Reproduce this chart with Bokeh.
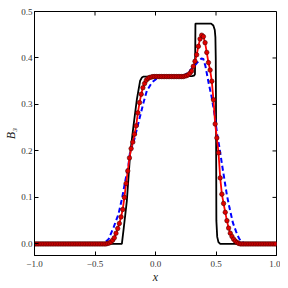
import numpy as np
from bokeh.plotting import figure
from bokeh.models import Range1d, FixedTicker
from bokeh.embed import file_html
from bokeh.resources import INLINE

# exact solution (black)
exact_x = [-1.0, -0.278, -0.262, -0.237, -0.209, -0.182, -0.154, -0.127, -0.112, -0.099,
           0.30, 0.318, 0.326, 0.328, 0.330, 0.46, 0.478, 0.49, 0.495, 0.498, 0.500,
           0.503, 0.51, 0.52, 0.535, 1.0]
exact_y = [0.0, 0.0, 0.035, 0.092, 0.195, 0.254, 0.311, 0.351, 0.358, 0.360,
           0.361, 0.362, 0.365, 0.40, 0.474, 0.474, 0.470, 0.460, 0.445, 0.40, 0.30,
           0.05, 0.015, 0.004, 0.0, 0.0]

# low-order scheme (blue dashed)
low_x = [-1.0, -0.45, -0.43, -0.41, -0.388, -0.347, -0.306, -0.278, -0.25, -0.223, -0.209,
         -0.182, -0.154, -0.127, -0.099, -0.072, -0.031, 0.011, 0.05, 0.20, 0.24, 0.267,
         0.295, 0.322, 0.345, 0.364, 0.38, 0.395, 0.413, 0.44, 0.465, 0.49, 0.51, 0.53,
         0.55, 0.57, 0.59, 0.612, 0.64, 0.667, 0.69, 0.708, 0.74, 0.78, 1.0]
low_y = [0.0, 0.0, 0.002, 0.005, 0.010, 0.035, 0.064, 0.096, 0.135, 0.171, 0.200,
         0.218, 0.247, 0.275, 0.304, 0.329, 0.347, 0.356, 0.360, 0.360, 0.363, 0.368,
         0.376, 0.383, 0.390, 0.395, 0.399, 0.398, 0.382, 0.345, 0.315, 0.275, 0.235, 0.205,
         0.170, 0.138, 0.105, 0.077, 0.045, 0.026, 0.012, 0.005, 0.001, 0.0, 0.0]

# high-order scheme (red with markers), 144 cell centres
N_CELLS = 144
high_x = np.linspace(-1 + 1 / N_CELLS, 1 - 1 / N_CELLS, N_CELLS)
high_y = [
    0.0, 0.0, 0.0, 0.0, 0.0, 0.0, 0.0, 0.0, 0.0, 0.0,
    0.0, 0.0, 0.0, 0.0, 0.0, 0.0, 0.0, 0.0, 0.0, 0.0,
    0.0, 0.0, 0.0, 0.0, 0.0, 0.0, 0.0, 0.0, 0.0, 0.0,
    0.0, 0.0, 0.0, 0.0, 0.0, 0.0, 0.0, 0.0, 0.0, 0.0,
    0.0, 0.0, 0.0, 0.001,
    0.002, 0.004, 0.008, 0.013, 0.023, 0.033, 0.044, 0.058, 0.074, 0.100,
    0.130, 0.157, 0.185, 0.205, 0.219, 0.236, 0.254, 0.282, 0.304, 0.322,
    0.336, 0.345, 0.352, 0.356, 0.358, 0.359,
    0.360, 0.360, 0.360, 0.360, 0.360, 0.360, 0.360, 0.360, 0.360, 0.360,
    0.360, 0.360, 0.360, 0.360, 0.360, 0.360, 0.360, 0.360, 0.360,
    0.361, 0.362, 0.364, 0.367, 0.372, 0.382, 0.393, 0.407, 0.425, 0.441,
    0.449, 0.446, 0.433, 0.412, 0.390, 0.374, 0.350, 0.310, 0.258, 0.228,
    0.196, 0.142, 0.107, 0.087, 0.068, 0.050, 0.034, 0.023, 0.016, 0.010,
    0.006, 0.003, 0.001,
    0.0, 0.0, 0.0, 0.0, 0.0, 0.0, 0.0, 0.0, 0.0, 0.0,
    0.0, 0.0, 0.0, 0.0, 0.0, 0.0, 0.0, 0.0, 0.0, 0.0,
    0.0, 0.0,
]

x_ticks = [-1.0, -0.5, 0.0, 0.5, 1.0]
x_tick_labels = ["\u22121.0", "\u22120.5", "0.0", "0.5", "1.0"]
y_ticks = [0.0, 0.1, 0.2, 0.3, 0.4, 0.5]
y_tick_labels = ["0.0", "0.1", "0.2", "0.3", "0.4", "0.5"]
X_MIN, X_MAX = -1.0, 1.0
Y_MIN, Y_MAX = -0.025, 0.5

FONT = "Liberation Serif"

p = figure(width=280, height=286, x_range=Range1d(X_MIN, X_MAX), y_range=Range1d(Y_MIN, Y_MAX),
           output_backend="svg", toolbar_location=None,
           min_border_left=34, min_border_right=4, min_border_top=11, min_border_bottom=31)
p.grid.visible = False
p.outline_line_color = "black"
p.outline_line_width = 1
p.background_fill_color = "white"
p.border_fill_color = "white"

for ax, ticks, labels in ((p.xaxis[0], x_ticks, x_tick_labels), (p.yaxis[0], y_ticks, y_tick_labels)):
    ax.ticker = FixedTicker(ticks=ticks)
    ax.major_tick_in = 4
    ax.major_tick_out = 0
    ax.minor_tick_line_color = None
    ax.axis_line_color = "black"
    ax.major_tick_line_color = "black"
    ax.major_label_overrides = {t: l for t, l in zip(ticks, labels)}
    ax.major_label_text_font = FONT
    ax.major_label_text_font_size = "9px"
    ax.major_label_text_color = "#333333"
    ax.axis_label_text_font = FONT
    ax.axis_label_text_font_style = "italic"
    ax.axis_label_text_font_size = "12px"
    ax.axis_label_text_color = "#222222"

p.xaxis[0].axis_label = "x"
p.yaxis[0].axis_label = "B\u2083"
p.xaxis[0].major_label_standoff = 5
p.xaxis[0].axis_label_standoff = 0
p.yaxis[0].major_label_standoff = 2
p.yaxis[0].axis_label_standoff = 0

# mirrored ticks on top and right edges
p.ray(x=x_ticks, y=[Y_MAX] * len(x_ticks), length=4, length_units="screen",
      angle=-np.pi / 2, line_color="black", line_width=1)
p.ray(x=[X_MAX] * len(y_ticks), y=y_ticks, length=4, length_units="screen",
      angle=np.pi, line_color="black", line_width=1)

p.line(exact_x, exact_y, line_color="black", line_width=1.8)
p.line(low_x, low_y, line_color="#0000ff", line_width=2, line_dash="5 3")
p.line(high_x, high_y, line_color="#ff0000", line_width=1.8)
p.scatter(high_x, high_y, size=4.5, fill_color="#e00000", line_color="#500000", line_width=0.6)

open("out.html", "w").write(file_html(p, INLINE))
